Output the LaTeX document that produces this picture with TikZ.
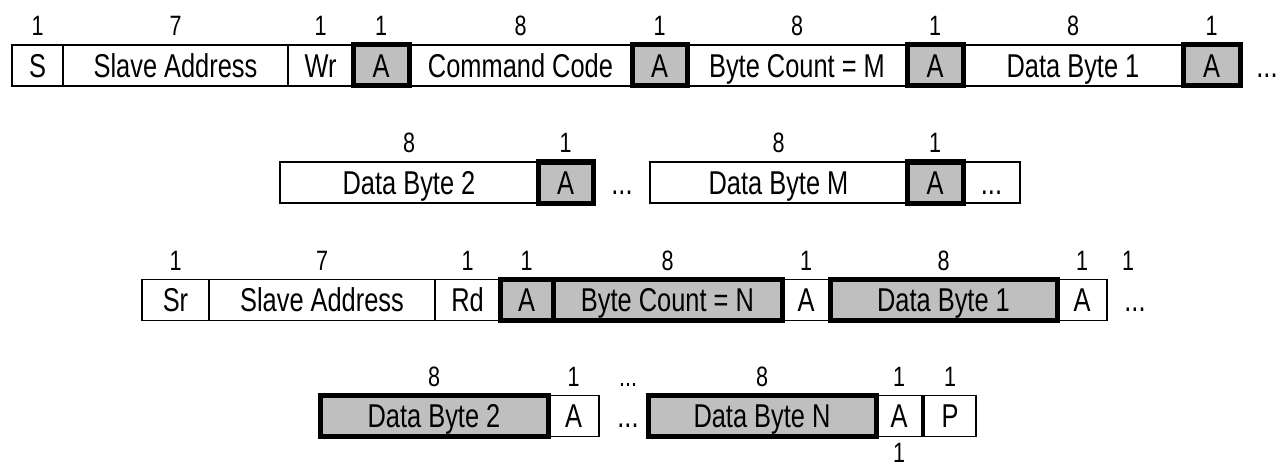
\documentclass[tikz,border=0pt]{standalone}
\usepackage{fontspec}
\setmainfont[FakeStretch=0.77]{Liberation Sans}
\newcommand{\fieldfont}{\fontsize{33}{36}\selectfont}
\newcommand{\bitfont}{\fontsize{28}{30}\selectfont}
\tikzset{
    fld/.style={draw, line width=1.2pt, anchor=west, outer sep=0pt, inner sep=0pt,
        minimum height=41pt, text height=23.5pt, text depth=0pt, font=\fieldfont,
        label distance=0pt},
    ack/.style={fld, fill=gray!50, line width=5pt},
    dots/.style={fld, draw=none, anchor=center},
    bits/.style={font=\bitfont, inner xsep=0pt, inner ysep=9pt, text height=20pt, text depth=0pt}
}

\begin{document}
\begin{tikzpicture}[x=1pt, y=-1pt]
\useasboundingbox (0,0) rectangle (1285,468);

% row 1: write part
\node[fld, minimum width=51pt, label={[bits]above:1}] (r1s) at (12,65.5) {S};
\node[fld, minimum width=225pt, label={[bits]above:7}] (r1addr) at (r1s.east) {Slave Address};
\node[fld, minimum width=65pt, label={[bits]above:1}] (r1wr) at (r1addr.east) {Wr};
\node[ack, minimum width=56pt, label={[bits]above:1}] (r1acka) at (r1wr.east) {A};
\node[fld, minimum width=223pt, label={[bits]above:8}] (r1cmd) at (r1acka.east) {Command Code};
\node[ack, minimum width=55pt, label={[bits]above:1}] (r1ackb) at (r1cmd.east) {A};
\node[fld, minimum width=220pt, label={[bits]above:8}] (r1cnt) at (r1ackb.east) {Byte Count = M};
\node[ack, minimum width=56pt, label={[bits]above:1}] (r1ackc) at (r1cnt.east) {A};
\node[fld, minimum width=220pt, label={[bits]above:8}] (r1data) at (r1ackc.east) {Data Byte 1};
\node[ack, minimum width=57pt, label={[bits]above:1}] (r1ackd) at (r1data.east) {A};
\node[dots] (r1dots) at (1267,65.5) {...};

% row 2: more data bytes
\node[fld, minimum width=258pt, label={[bits]above:8}] (r2data) at (280,182.5) {Data Byte 2};
\node[ack, minimum width=55pt, label={[bits]above:1}] (r2acka) at (r2data.east) {A};
\node[dots] (r2dots) at (622,182.5) {...};
\node[fld, minimum width=257pt, label={[bits]above:8}] (r2last) at (650,182.5) {Data Byte M};
\node[ack, minimum width=56pt, label={[bits]above:1}] (r2ackb) at (r2last.east) {A};
\node[fld, minimum width=57pt] (r2more) at (r2ackb.east) {...};

% row 3: read part
\node[fld, minimum width=67pt, label={[bits]above:1}] (r3sr) at (142,300) {Sr};
\node[fld, minimum width=226pt, label={[bits]above:7}] (r3addr) at (r3sr.east) {Slave Address};
\node[fld, minimum width=65pt, label={[bits]above:1}] (r3rd) at (r3addr.east) {Rd};
\node[ack, minimum width=53pt, label={[bits]above:1}] (r3acka) at (r3rd.east) {A};
\node[ack, minimum width=229pt, label={[bits]above:8}] (r3cnt) at (r3acka.east) {Byte Count = N};
\node[fld, minimum width=48pt, label={[bits]above:1}] (r3ackb) at (r3cnt.east) {A};
\node[ack, minimum width=227pt, label={[bits]above:8}] (r3data) at (r3ackb.east) {Data Byte 1};
\node[fld, minimum width=50pt, label={[bits]above:1}] (r3ackc) at (r3data.east) {A};
\node[dots, label={[bits, xshift=-7pt]above:1}] (r3dots) at (1135,300) {...};

% row 4: last bytes and stop
\node[ack, minimum width=228pt, label={[bits]above:8}] (r4data) at (320,416) {Data Byte 2};
\node[fld, minimum width=51pt, label={[bits]above:1}] (r4acka) at (r4data.east) {A};
\node[dots, label={[bits]above:...}] (r4dots) at (628,416) {...};
\node[ack, minimum width=228pt, label={[bits]above:8}] (r4last) at (648,416) {Data Byte N};
\node[fld, minimum width=46pt, label={[bits]above:1}, label={[bits, inner ysep=6pt]below:1}] (r4ackb) at (r4last.east) {A};
\node[fld, minimum width=52pt, label={[bits]above:1}] (r4p) at ([xshift=2pt]r4ackb.east) {P};
\end{tikzpicture}
\end{document}
